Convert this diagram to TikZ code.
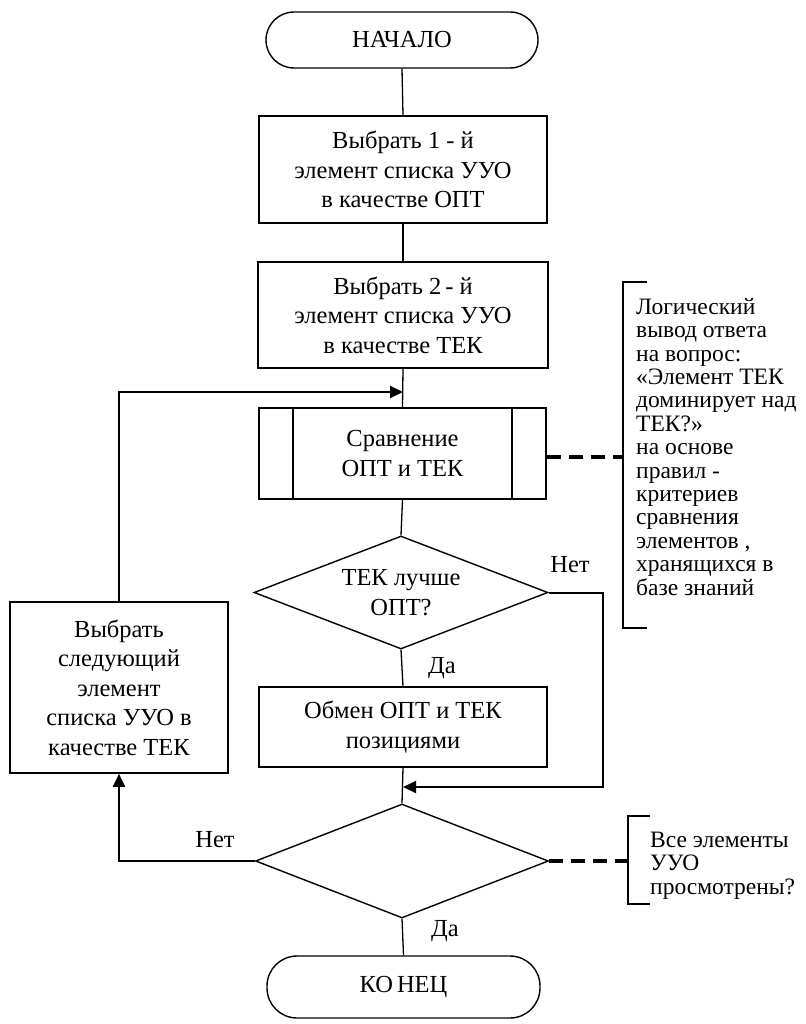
\documentclass[tikz,border=0pt]{standalone}
\usepackage{fontspec}
\setmainfont{Liberation Serif}
\newfontfamily\tnr{Liberation Serif}
\usetikzlibrary{shapes.geometric,arrows.meta,calc}
\begin{document}
\begin{tikzpicture}[x=1pt,y=-1pt,
  boxfont/.style={font=\tnr\fontsize{24.5}{29.5}\selectfont},
  notefont/.style={font=\tnr\fontsize{23.5}{23.4}\selectfont},
  proc/.style={draw,line width=1.6pt,rectangle,inner sep=0pt,align=center,boxfont},
  term/.style={draw,line width=1.4pt,rectangle,rounded corners=28pt,inner sep=0pt,boxfont},
  decide/.style={draw,line width=1.4pt,diamond,aspect=2.6,inner sep=0pt,align=center,boxfont},
  conn/.style={line width=1.3pt},
  loopline/.style={line width=2pt,-{Triangle[length=13pt,width=12pt]}},
  dashconn/.style={line width=3.2pt,dash pattern=on 14pt off 8pt},
  brack/.style={line width=1.5pt},
  lab/.style={boxfont,inner sep=0pt},
  note/.style={notefont,align=left,inner sep=0pt,anchor=north west}
]
\useasboundingbox (0,0) rectangle (805,1024);

\node[term,minimum width=272pt,minimum height=56pt] (start) at (402,40) {НАЧАЛО};
\node[proc,minimum width=288pt,minimum height=107pt] (b1) at (403,169.5)
  {Выбрать 1 - й\\элемент списка УУО\\в качестве ОПТ};
\node[proc,minimum width=290pt,minimum height=106pt] (b2) at (403,315)
  {Выбрать 2\,- й\\элемент списка УУО\\в качестве ТЕК};
\node[proc,minimum width=287pt,minimum height=91pt] (sub) at (402.5,453.5)
  {Сравнение\\ОПТ и ТЕК};
\draw[line width=1.6pt] ($(sub.north west)+(35,0)$) -- ($(sub.south west)+(35,0)$);
\draw[line width=1.6pt] ($(sub.north east)+(-35,0)$) -- ($(sub.south east)+(-35,0)$);
\node[decide,minimum width=294pt,minimum height=113pt] (d1) at (401,592.5)
  {ТЕК лучше\\ОПТ?};
\node[proc,minimum width=288pt,minimum height=80pt] (b3) at (403,727)
  {Обмен ОПТ и ТЕК\\позициями};
\node[proc,minimum width=218pt,minimum height=171pt] (lb) at (119,687.5)
  {Выбрать\\следующий\\элемент\\списка УУО в\\качестве ТЕК};
\node[decide,minimum width=293pt,minimum height=114pt] (d2) at (402,861) {};
\node[term,rounded corners=30pt,minimum width=273pt,minimum height=62pt] (end) at (403.5,987)
  {КО\kern4ptНЕЦ};

% main flow
\draw[conn] (start.south) -- (b1.north);
\draw[conn] (b1.south) -- (b2.north);
\draw[conn] (b2.south) -- (sub.north);
\draw[conn] (sub.south) -- (d1.north);
\draw[conn] (d1.south) -- (b3.north);
\draw[conn] (b3.south) -- (d2.north);
\draw[conn] (d2.south) -- (end.north);

% loops
\coordinate (m1) at (403,392);
\coordinate (m2) at (403,787);
\draw[loopline] (lb.north) |- (m1);
\draw[loopline] (d1.east) -- ++(54,0) |- (m2);
\draw[loopline] (d2.west) -| (lb.south);

% labels
\node[lab] (da1) at (442,668) {Да};
\node[lab] (net1) at (570,565) {Нет};
\node[lab] (net2) at (215,840) {Нет};
\node[lab] (da2) at (445,931) {Да};

% annotation 1
\coordinate (k1t) at (647,282);
\coordinate (k1a) at (623,282);
\coordinate (k1m) at (623,457);
\coordinate (k1b) at (623,628);
\coordinate (k1e) at (647,628);
\draw[brack] (k1t) -- (k1a) -- (k1b) -- (k1e);
\draw[dashconn] (k1m -| sub.east) -- (k1m);
\node[note] (n1) at (636,298)
  {Логический\\вывод ответа\\на вопрос:\\«Элемент ТЕК\\доминирует над\\ТЕК?»\\на основе\\правил -\\критериев\\сравнения\\элементов ,\\хранящихся в\\базе знаний};

% annotation 2
\coordinate (k2t) at (650,816);
\coordinate (k2a) at (628,816);
\coordinate (k2m) at (628,861);
\coordinate (k2b) at (628,904);
\coordinate (k2e) at (650,904);
\draw[brack] (k2t) -- (k2a) -- (k2b) -- (k2e);
\draw[dashconn] (d2.east) -- (k2m);
\node[note] (n2) at (650,832)
  {Все элементы\\УУО\\просмотрены?};
\end{tikzpicture}
\end{document}
